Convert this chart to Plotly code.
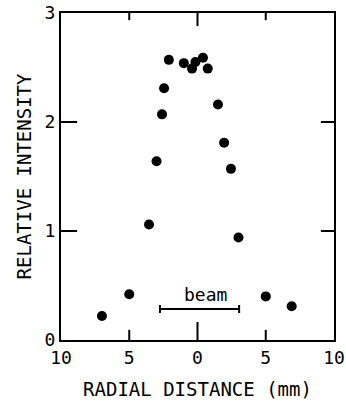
import plotly.graph_objects as go

# Data
radial_distance = [-7.0, -5.0, -3.55, -3.0, -2.6, -2.45, -2.1, -1.0, -0.4, -0.15, 0.4, 0.75, 1.5, 1.95, 2.45, 3.0, 5.0, 6.9]
relative_intensity = [0.22, 0.42, 1.06, 1.64, 2.07, 2.31, 2.57, 2.54, 2.49, 2.55, 2.59, 2.49, 2.16, 1.81, 1.57, 0.94, 0.40, 0.31]

beam_start = -2.75
beam_end = 3.05
beam_level = 0.285
beam_label = "beam"

# inner tick positions (frame edges carry the end ticks)
x_inner_ticks = [-5, 0, 5]
y_inner_ticks = [1, 2]

# negative-side tick labels are shown without sign (distance from centre)
x_label_alias = {"\u221210": "10", "\u22125": "5", "-10": "10", "-5": "5"}

FONT = "DejaVu Sans Mono"
CLEAR = "rgba(0,0,0,0)"

fig = go.Figure()

fig.add_trace(go.Scatter(
    x=radial_distance, y=relative_intensity, mode="markers",
    marker=dict(color="black", size=10), showlegend=False, hoverinfo="skip",
))

beam_center = (beam_start + beam_end) / 2
beam_half = (beam_end - beam_start) / 2
fig.add_trace(go.Scatter(
    x=[beam_center], y=[beam_level], mode="markers",
    marker=dict(color=CLEAR, size=1),
    error_x=dict(type="constant", value=beam_half, color="black", thickness=2, width=4),
    showlegend=False, hoverinfo="skip",
))

fig.add_annotation(x=beam_center + 0.45, y=beam_level, yshift=14,
                   text=beam_label, showarrow=False,
                   font=dict(family=FONT, size=18, color="black"))

# tick marks drawn inside the frame (centre tick longer, as in the original)
tick_line = dict(color="black", width=2)
for v in x_inner_ticks:
    bottom_len = 0.055 if v == 0 else 0.031
    top_len = 0.040 if v == 0 else 0.022
    fig.add_shape(type="line", xref="x", yref="paper", x0=v, x1=v, y0=0, y1=bottom_len, line=tick_line)
    fig.add_shape(type="line", xref="x", yref="paper", x0=v, x1=v, y0=1, y1=1 - top_len, line=tick_line)
for v in y_inner_ticks:
    fig.add_shape(type="line", xref="paper", yref="y", x0=0, x1=0.059, y0=v, y1=v, line=tick_line)
    fig.add_shape(type="line", xref="paper", yref="y", x0=1, x1=1 - 0.048, y0=v, y1=v, line=tick_line)

fig.update_layout(
    template="none",
    width=346, height=402,
    margin=dict(l=61, r=12, t=13, b=62),
    paper_bgcolor="white", plot_bgcolor=CLEAR,
    font=dict(family=FONT, color="black"),
    xaxis=dict(
        range=[-10, 10], tickmode="linear", tick0=0, dtick=5, labelalias=x_label_alias,
        ticks="", showline=True, linewidth=2, linecolor="black", mirror=True,
        showgrid=False, zeroline=False,
        tickfont=dict(family=FONT, size=18, color="black"),
        title=dict(text="RADIAL DISTANCE (mm)", font=dict(family=FONT, size=19), standoff=16),
    ),
    yaxis=dict(
        range=[0, 3], tickmode="linear", tick0=0, dtick=1,
        ticks="", showline=True, linewidth=2, linecolor="black", mirror=True,
        showgrid=False, zeroline=False,
        tickfont=dict(family=FONT, size=18, color="black"),
        title=dict(text="RELATIVE INTENSITY", font=dict(family=FONT, size=19), standoff=8),
    ),
)

fig.write_html("out.html")
